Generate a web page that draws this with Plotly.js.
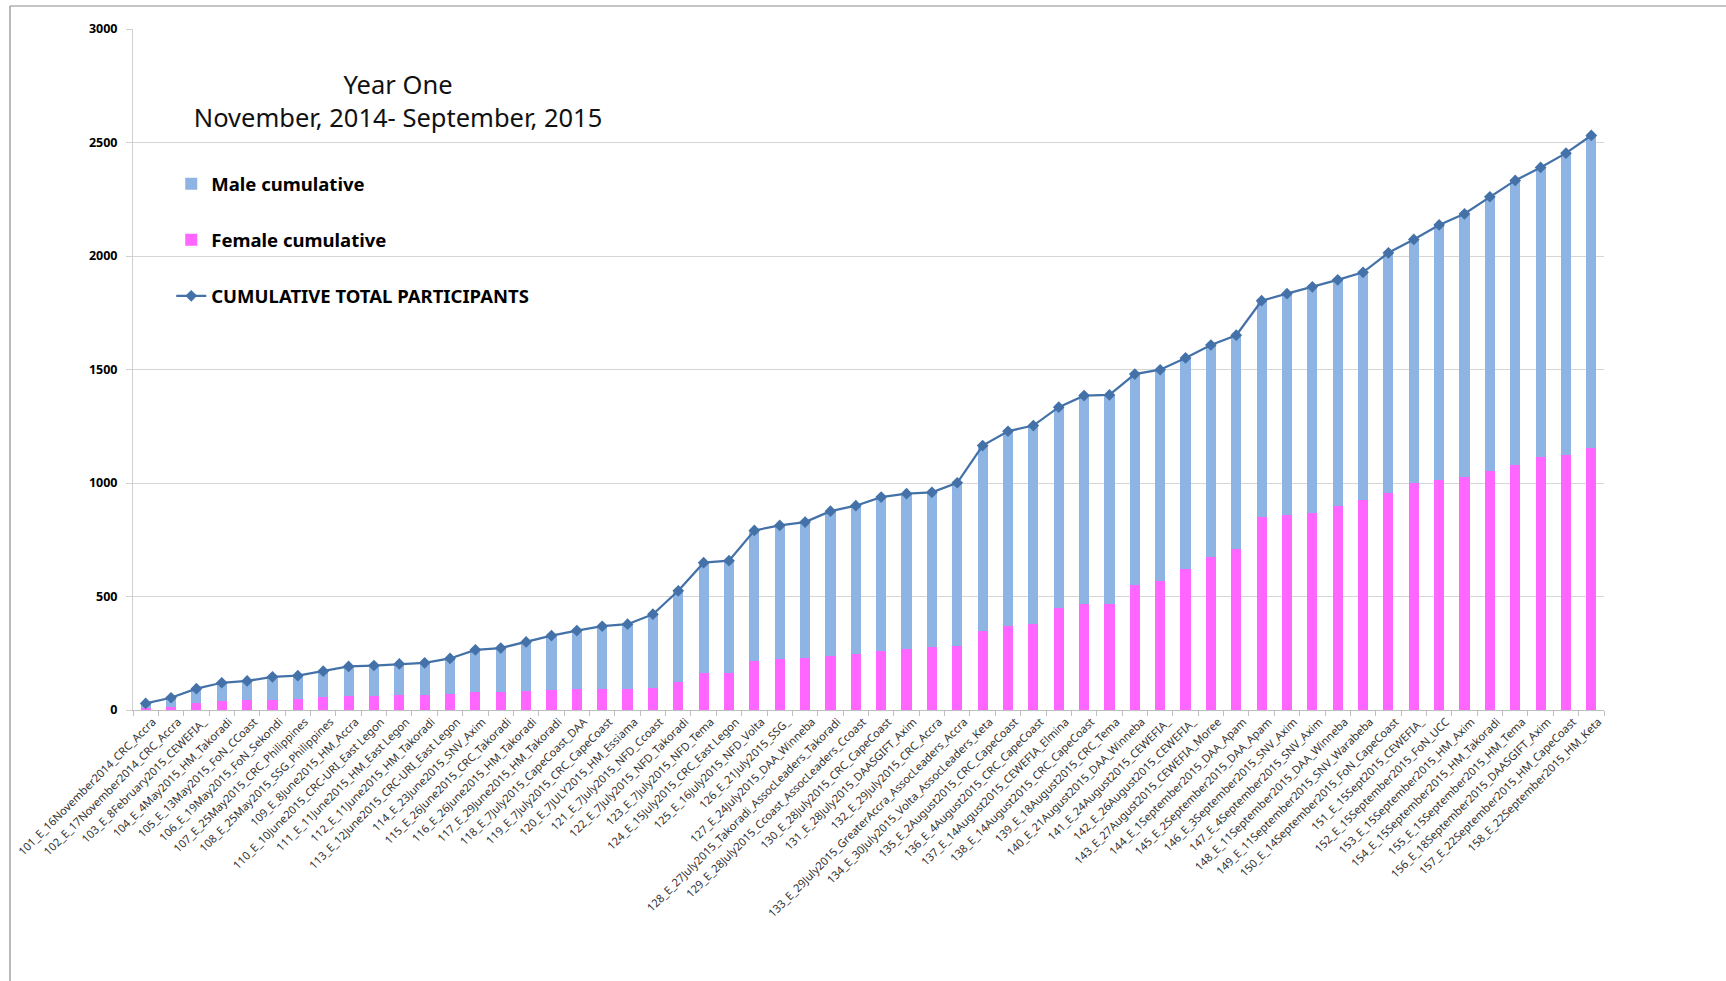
<!DOCTYPE html>
<html>
<head>
<meta charset="utf-8">
<script src="https://cdn.plot.ly/plotly-3.0.1.min.js"></script>
<style>
  html, body { margin: 0; padding: 0; background: #ffffff; }
  #chart { width: 1726px; height: 981px; }
</style>
</head>
<body>
<div id="chart"></div>
<script>
const categories = [
  "101_E_16November2014_CRC_Accra",
  "102_E_17November2014_CRC_Accra",
  "103_E_8February2015_CEWEFIA_",
  "104_E_4May2015_HM_Takoradi",
  "105_E_13May2015_FoN_CCoast",
  "106_E_19May2015_FoN_Sekondi",
  "107_E_25May2015_CRC_Philippines",
  "108_E_25May2015_SSG_Philippines",
  "109_E_8June2015_HM_Accra",
  "110_E_10June2015_CRC-URI_East Legon",
  "111_E_11June2015_HM_East Legon",
  "112_E_11June2015_HM_Takoradi",
  "113_E_12June2015_CRC-URI_East Legon",
  "114_E_23June2015_SNV_Axim",
  "115_E_26June2015_CRC_Takoradi",
  "116_E_26June2015_HM_Takoradi",
  "117_E_29June2015_HM_Takoradi",
  "118_E_7July2015_CapeCoast_DAA",
  "119_E_7July2015_CRC_CapeCoast",
  "120_E_7JULY2015_HM_Essiama",
  "121_E_7July2015_NFD_Ccoast",
  "122_E_7July2015_NFD_Takoradi",
  "123_E_7July2015_NFD_Tema",
  "124_E_15July2015_CRC_East Legon",
  "125_E_16July2015_NFD_Volta",
  "126_E_21July2015_SSG_",
  "127_E_24July2015_DAA_Winneba",
  "128_E_27July2015_Takoradi_AssocLeaders_Takoradi",
  "129_E_28July2015_Ccoast_AssocLeaders_Ccoast",
  "130_E_28July2015_CRC_CapeCoast",
  "131_E_28July2015_DAASGIFT_Axim",
  "132_E_29July2015_CRC_Accra",
  "133_E_29July2015_GreaterAccra_AssocLeaders_Accra",
  "134_E_30July2015_Volta_AssocLeaders_Keta",
  "135_E_2August2015_CRC_CapeCoast",
  "136_E_4August2015_CRC_CapeCoast",
  "137_E_14August2015_CEWEFIA_Elmina",
  "138_E_14August2015_CRC_CapeCoast",
  "139_E_18August2015_CRC_Tema",
  "140_E_21August2015_DAA_Winneba",
  "141_E_24August2015_CEWEFIA_",
  "142_E_26August2015_CEWEFIA_",
  "143_E_27August2015_CEWEFIA_Moree",
  "144_E_1September2015_DAA_Apam",
  "145_E_2September2015_DAA_Apam",
  "146_E_3September2015_SNV_Axim",
  "147_E_4September2015_SNV_Axim",
  "148_E_11September2015_DAA_Winneba",
  "149_E_11September2015_SNV_Warabeba",
  "150_E_14September2015_FoN_CapeCoast",
  "151_E_15Sept2015_CEWEFIA_",
  "152_E_15September2015_FoN_UCC",
  "153_E_15September2015_HM_Axim",
  "154_E_15September2015_HM_Takoradi",
  "155_E_15September2015_HM_Tema",
  "156_E_18September2015_DAASGIFT_Axim",
  "157_E_22September2015_HM_CapeCoast",
  "158_E_22September2015_HM_Keta"
];

const femaleCumulative = [
  10, 15, 31, 38, 44, 44, 47, 56, 63, 63, 64, 64, 72, 79, 81,
  84, 87, 91, 91, 94, 98, 123, 161, 161, 215, 223, 229, 240, 246,
  259, 270, 276, 284, 350, 372, 380, 448, 466, 466, 550, 569, 620, 673,
  709, 850, 859, 869, 897, 925, 956, 1002, 1012, 1026, 1052, 1078, 1113, 1122, 1153
];

const maleCumulative = [
  19, 39, 63, 82, 84, 102, 104, 115, 129, 133, 139, 144, 155, 186, 192,
  216, 241, 259, 278, 284, 324, 402, 488, 497, 576, 590, 599, 636, 654,
  679, 683, 683, 717, 815, 856, 873, 886, 919, 922, 930, 930, 931, 935,
  942, 953, 975, 995, 998, 1003, 1058, 1071, 1125, 1160, 1209, 1255, 1277, 1331, 1378
];

const cumulativeTotal = [
  29, 54, 94, 120, 128, 146, 151, 171, 192, 196, 203, 208, 227, 265, 273,
  300, 328, 350, 369, 378, 422, 525, 649, 658, 791, 813, 828, 876, 900,
  938, 953, 959, 1001, 1165, 1228, 1253, 1334, 1385, 1388, 1480, 1499, 1551, 1608,
  1651, 1803, 1834, 1864, 1895, 1928, 2014, 2073, 2137, 2186, 2261, 2333, 2390, 2453, 2531
];

const yTickValues = [0, 500, 1000, 1500, 2000, 2500, 3000];

const traces = [
  {
    type: 'bar',
    name: 'Female cumulative',
    x: categories,
    y: femaleCumulative,
    marker: { color: '#FF66FF' },
    legendrank: 2,
    legendgroup: 'f',
    hoverinfo: 'x+y+name'
  },
  {
    type: 'bar',
    name: 'Male cumulative',
    x: categories,
    y: maleCumulative,
    marker: { color: '#8EB4E3' },
    legendrank: 1,
    legendgroup: 'm',
    hoverinfo: 'x+y+name'
  },
  {
    type: 'scatter',
    mode: 'lines+markers',
    name: 'CUMULATIVE TOTAL PARTICIPANTS',
    x: categories,
    y: cumulativeTotal,
    line: { color: '#4472A8', width: 2.25 },
    marker: { symbol: 'diamond', size: 9, color: '#4472A8' },
    legendrank: 3,
    legendgroup: 't'
  }
];

const layout = {
  width: 1726,
  height: 981,
  paper_bgcolor: '#ffffff',
  plot_bgcolor: '#ffffff',
  margin: { l: 133, r: 122, t: 29, b: 271, pad: 0 },
  barmode: 'stack',
  bargap: 0.6,
  font: { family: '"Noto Sans", "Open Sans", sans-serif', color: '#000000' },
  title: {
    text: 'Year One<br>November, 2014- September, 2015',
    x: 398 / 1726,
    xanchor: 'center',
    xref: 'container',
    y: 1 - 94 / 981,
    yanchor: 'middle',
    yref: 'container',
    font: { family: '"Noto Sans", "Open Sans", sans-serif', size: 25.5, color: '#111111' }
  },
  showlegend: true,
  legend: {
    x: 0.026,
    xanchor: 'left',
    y: 0.80,
    yanchor: 'top',
    traceorder: 'grouped',
    tracegroupgap: 29,
    bgcolor: 'rgba(0,0,0,0)',
    font: { family: '"Noto Sans", "Open Sans", sans-serif', size: 18.5, color: '#000000', weight: 'bold' },
    itemwidth: 30
  },
  xaxis: {
    type: 'category',
    range: [-0.5, categories.length - 0.5],
    autorange: false,
    tickangle: -45,
    tickson: 'boundaries',
    ticks: 'outside',
    ticklen: 5,
    tickcolor: '#bfbfbf',
    ticklabelshift: 7,
    showline: true,
    linecolor: '#bfbfbf',
    linewidth: 1,
    showgrid: false,
    tickfont: { family: '"Noto Sans", "Open Sans", sans-serif', size: 11.2, color: '#333333' },
    automargin: false
  },
  yaxis: {
    range: [0, 3000],
    autorange: false,
    tickvals: yTickValues,
    ticktext: yTickValues.map(String),
    ticks: 'outside',
    ticklen: 6,
    tickcolor: '#d0d0d0',
    ticklabelstandoff: 6,
    showline: true,
    linecolor: '#d0d0d0',
    linewidth: 1,
    showgrid: true,
    gridcolor: '#d6d6d6',
    gridwidth: 1,
    zeroline: false,
    tickfont: { family: '"Noto Sans", "Open Sans", sans-serif', size: 12.5, color: '#000000', weight: 'bold' },
    automargin: false
  },
  shapes: [
    {
      type: 'line', xref: 'paper', yref: 'paper',
      x0: (10 - 133) / 1471, x1: (1740 - 133) / 1471,
      y0: (710 - 6) / 681, y1: (710 - 6) / 681,
      line: { color: '#8c8c8c', width: 1.2 }
    },
    {
      type: 'line', xref: 'paper', yref: 'paper',
      x0: (10 - 133) / 1471, x1: (10 - 133) / 1471,
      y0: (710 - 6) / 681, y1: (710 - 1000) / 681,
      line: { color: '#8c8c8c', width: 1.2 }
    }
  ]
};

Plotly.newPlot('chart', traces, layout, { displayModeBar: false, staticPlot: false });
</script>
</body>
</html>
